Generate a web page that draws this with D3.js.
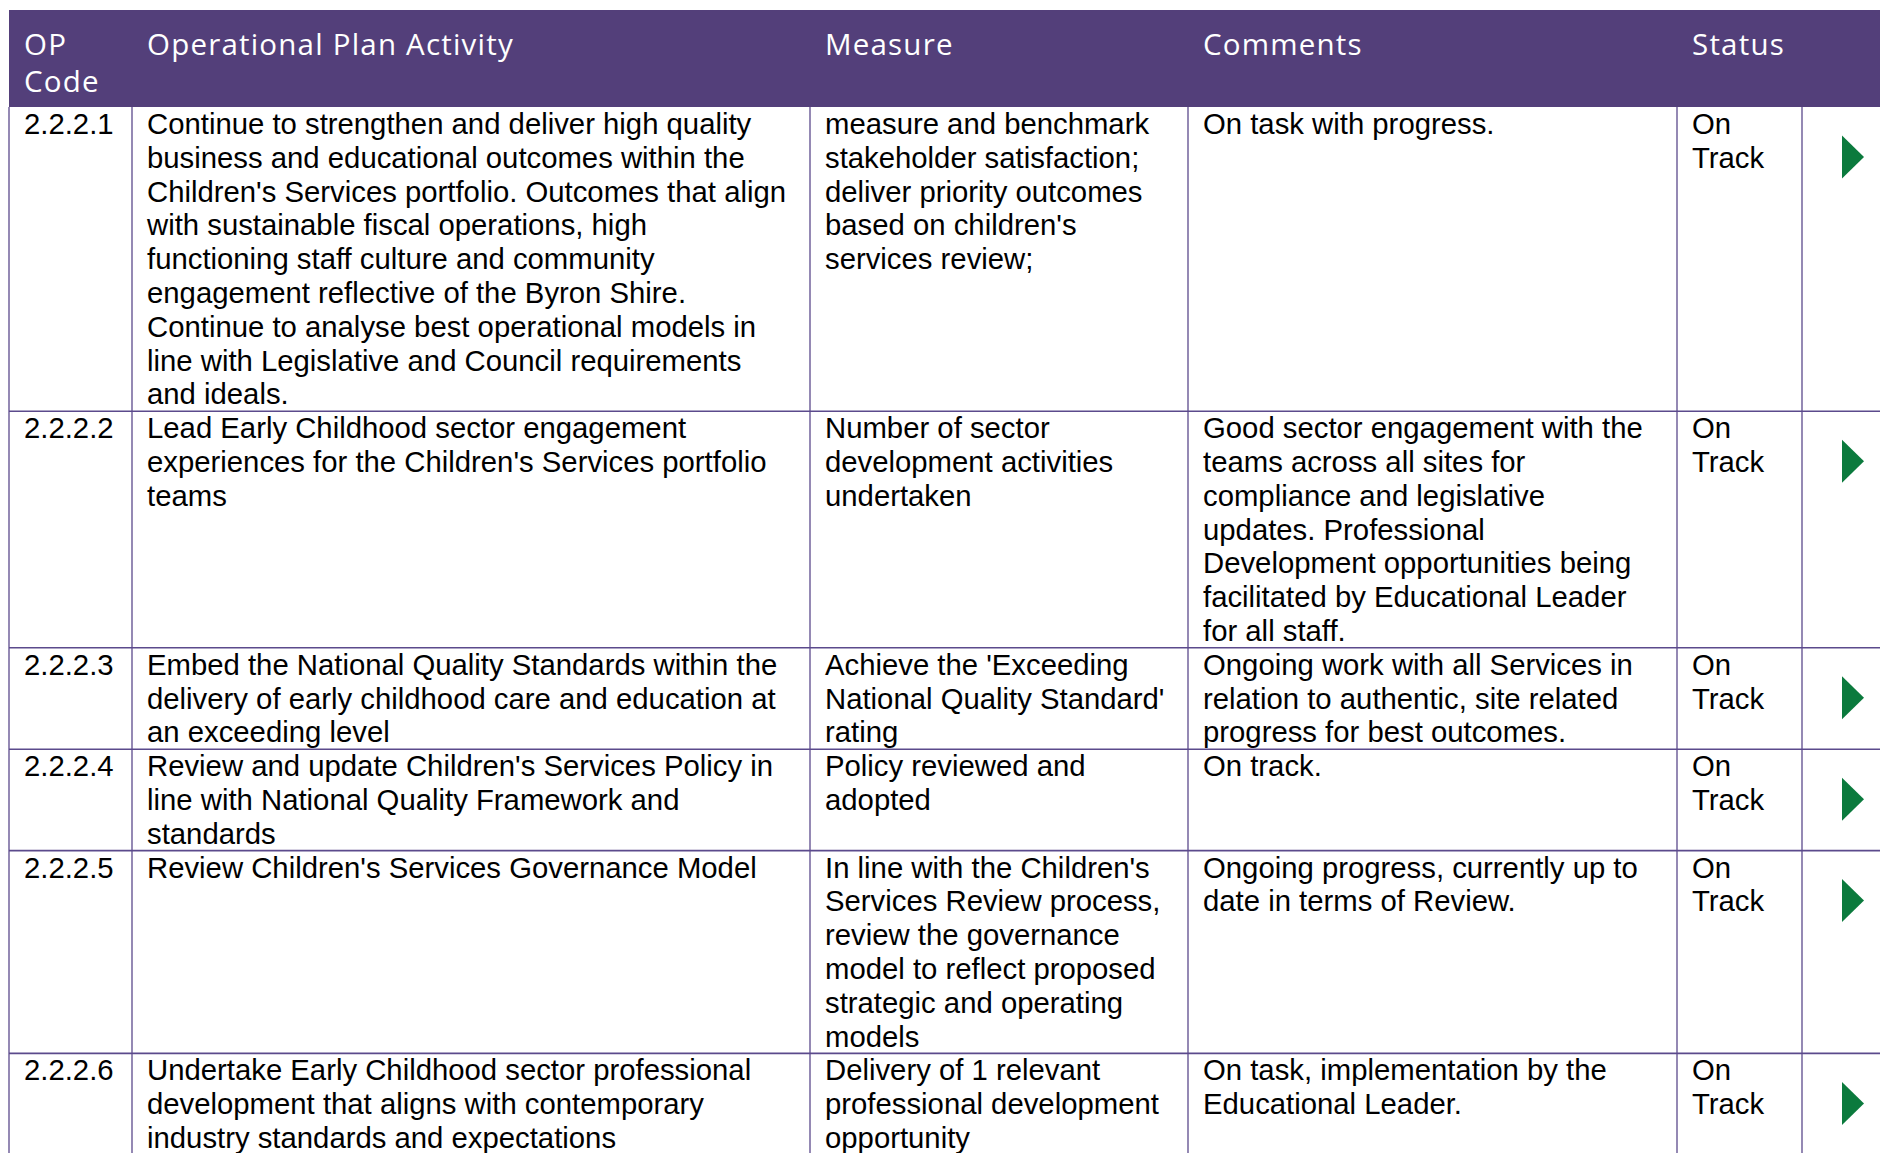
<!DOCTYPE html>
<html><head><meta charset="utf-8">
<script src="https://cdn.jsdelivr.net/npm/d3@7"></script>
<style>body{margin:0;background:#fff;overflow:hidden;} svg{display:block;}</style>
</head><body>
<script>
// ---- data ----
const headers = [["OP","Code"], ["Operational Plan Activity"], ["Measure"], ["Comments"], ["Status"], []];
const codes = ["2.2.2.1","2.2.2.2","2.2.2.3","2.2.2.4","2.2.2.5","2.2.2.6"];
const activities = [
  ["Continue to strengthen and deliver high quality","business and educational outcomes within the","Children's Services portfolio. Outcomes that align","with sustainable fiscal operations, high","functioning staff culture and community","engagement reflective of the Byron Shire.","Continue to analyse best operational models in","line with Legislative and Council requirements","and ideals."],
  ["Lead Early Childhood sector engagement","experiences for the Children's Services portfolio","teams"],
  ["Embed the National Quality Standards within the","delivery of early childhood care and education at","an exceeding level"],
  ["Review and update Children's Services Policy in","line with National Quality Framework and","standards"],
  ["Review Children's Services Governance Model"],
  ["Undertake Early Childhood sector professional","development that aligns with contemporary","industry standards and expectations"]
];
const measures = [
  ["measure and benchmark","stakeholder satisfaction;","deliver priority outcomes","based on children's","services review;"],
  ["Number of sector","development activities","undertaken"],
  ["Achieve the 'Exceeding","National Quality Standard'","rating"],
  ["Policy reviewed and","adopted"],
  ["In line with the Children's","Services Review process,","review the governance","model to reflect proposed","strategic and operating","models"],
  ["Delivery of 1 relevant","professional development","opportunity"]
];
const comments = [
  ["On task with progress."],
  ["Good sector engagement with the","teams across all sites for","compliance and legislative","updates. Professional","Development opportunities being","facilitated by Educational Leader","for all staff."],
  ["Ongoing work with all Services in","relation to authentic, site related","progress for best outcomes."],
  ["On track."],
  ["Ongoing progress, currently up to","date in terms of Review."],
  ["On task, implementation by the","Educational Leader."]
];
const statuses = ["On Track","On Track","On Track","On Track","On Track","On Track"];
const trends = ["right","right","right","right","right","right"];

// ---- layout ----
const W = 1880, H = 1153;
const colKeys = ["code","activity","measure","comment","status","trend","end"];
const x = d3.scaleOrdinal().domain(colKeys).range([9,132,810,1188,1677,1802,1880]);
const headTop = 10, headBottom = 107, lineH = 33.8, padX = 15;
const purple = "#533f7a", border = "#5b4a8c", green = "#0b7a3d";

const rows = codes.map((c,i) => ({
  code:[c], activity:activities[i], measure:measures[i], comment:comments[i],
  status:statuses[i].split(" "), trend:trends[i]
}));
let yAcc = headBottom;
rows.forEach(r => {
  r.n = Math.max(r.activity.length, r.measure.length, r.comment.length, r.status.length);
  r.y = yAcc; r.h = r.n * lineH; yAcc += r.h;
});
const y = d3.scaleLinear().domain([0, 1]).range([0, lineH]); // line index -> offset

const svg = d3.select("body").append("svg").attr("width", W).attr("height", H);

// header
svg.append("rect").attr("x", x("code")).attr("y", headTop)
  .attr("width", x("end") - x("code")).attr("height", headBottom - headTop).attr("fill", purple);
const hg = svg.append("g").attr("font-family", "'Open Sans', sans-serif").attr("font-size", 29.5)
  .attr("font-weight", 400).attr("fill", "#fff").attr("letter-spacing", "1.2px");
headers.forEach((h, i) => {
  h.forEach((t, j) => {
    hg.append("text").attr("x", x(colKeys[i]) + padX).attr("y", 55 + j * 36.5).text(t);
  });
});

// body text
const bg = svg.append("g").attr("font-family", "'Liberation Sans', Arial, sans-serif")
  .attr("font-size", 29.3).attr("fill", "#000");
rows.forEach(r => {
  ["code","activity","measure","comment","status"].forEach(k => {
    r[k].forEach((t, j) => {
      bg.append("text").attr("x", x(k) + padX).attr("y", r.y + 27 + y(j)).text(t);
    });
  });
  if (r.trend === "right") {
    const tx = x("trend") + 40, ty = r.y + 28.5;
    svg.append("path").attr("d", d3.line()([[tx, ty], [tx, ty + 43], [tx + 22, ty + 21.5]]) + "Z")
      .attr("fill", green);
  }
});

// grid lines
const lg = svg.append("g").attr("stroke", border).attr("fill", "none");
rows.forEach((r, i) => {
  if (i > 0) lg.append("line").attr("x1", x("code")).attr("x2", x("end")).attr("y1", r.y).attr("y2", r.y).attr("stroke-width", 1.6);
});
["code","activity","measure","comment","status","trend"].forEach(k => {
  lg.append("line").attr("x1", x(k)).attr("x2", x(k)).attr("y1", headBottom).attr("y2", H).attr("stroke-width", 1.3);
});
</script>
</body></html>
